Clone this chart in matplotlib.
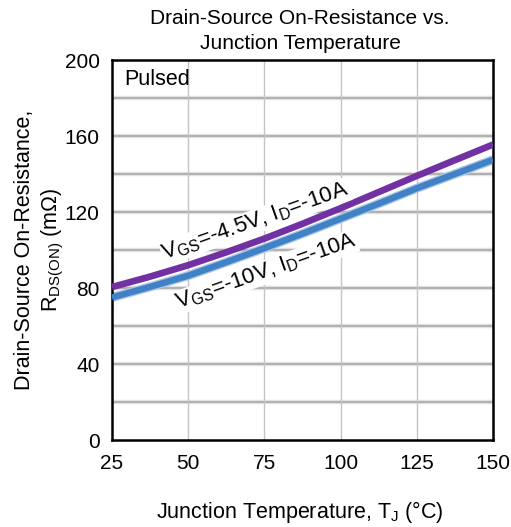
import matplotlib
matplotlib.use("Agg")
import matplotlib.pyplot as plt

plt.rcParams['font.family'] = ['Liberation Sans', 'DejaVu Sans']
plt.rcParams['mathtext.fontset'] = 'custom'
plt.rcParams['mathtext.rm'] = 'Liberation Sans'
plt.rcParams['mathtext.it'] = 'Liberation Sans'

temps = [25, 37.5, 50, 62.5, 75, 87.5, 100, 112.5, 125, 137.5, 150]
r_45v = [80.5, 86, 92, 98.8, 106, 113.8, 122, 130.5, 139, 147.3, 155.5]
r_10v = [75, 80.6, 86.5, 93.6, 101, 108.6, 116.5, 124.4, 132.5, 140, 147.5]
xticks = [25, 50, 75, 100, 125, 150]
yticks = [0, 40, 80, 120, 160, 200]
label_45v = r'$\mathregular{V_{GS}}$=-4.5V, $\mathregular{I_{D}}$=-10A'
label_10v = r'$\mathregular{V_{GS}}$=-10V, $\mathregular{I_{D}}$=-10A'

fig = plt.figure(figsize=(5.11, 5.27), dpi=100)
ax = fig.add_axes([112/511, 1-440/527, (493-112)/511, (440-60)/527])

ax.set_xlim(25, 150)
ax.set_ylim(0, 200)
ax.set_xticks(xticks)
ax.set_yticks(yticks)
ax.tick_params(axis='both', which='both', length=0, labelsize=15, pad=9)
ax.tick_params(axis='x', pad=10)

for y in range(20, 200, 20):
    ax.axhline(y, color='#e2e2e2', lw=3.2, zorder=1)
    ax.axhline(y, color='#a8a8a8', lw=1.2, zorder=1)
for x in xticks[1:-1]:
    ax.axvline(x, color='#c4c4c4', lw=1.0, zorder=1)

ax.plot(temps, r_10v, color='#a9c6e6', lw=6.5, zorder=2, solid_capstyle='butt')
ax.plot(temps, r_10v, color='#4181c6', lw=4.6, zorder=3, solid_capstyle='butt')
ax.plot(temps, r_45v, color='#7231a3', lw=4.8, zorder=3, solid_capstyle='butt')

for s in ax.spines.values():
    s.set_linewidth(1.8)
    s.set_color('black')

bbox = dict(facecolor='white', edgecolor='none', pad=0.5)
ax.text(72, 115, label_45v, rotation=19.5, fontsize=16, ha='center', va='center',
        bbox=bbox, zorder=4, rotation_mode='anchor')
ax.text(75.5, 88.5, label_10v, rotation=19.5, fontsize=16, ha='center', va='center',
        bbox=bbox, zorder=4, rotation_mode='anchor')

ax.text(29, 189.5, 'Pulsed', fontsize=15.5, ha='left', va='center', zorder=4)

fig.text(300/511, 1-31/527, 'Drain-Source On-Resistance vs.\nJunction Temperature',
         ha='center', va='center', fontsize=15, linespacing=1.35)
fig.text(40/511, 1-250/527,
         'Drain-Source On-Resistance,\n' + r'$\mathregular{R_{DS(ON)}}$ (mΩ)',
         ha='center', va='center', rotation=90, fontsize=15.5, linespacing=1.25)
fig.text(300/511, 1-512/527, r'Junction Temperature, $\mathregular{T_{J}}$ (°C)',
         ha='center', va='center', fontsize=15.5)

fig.savefig('out.png', dpi=100)
